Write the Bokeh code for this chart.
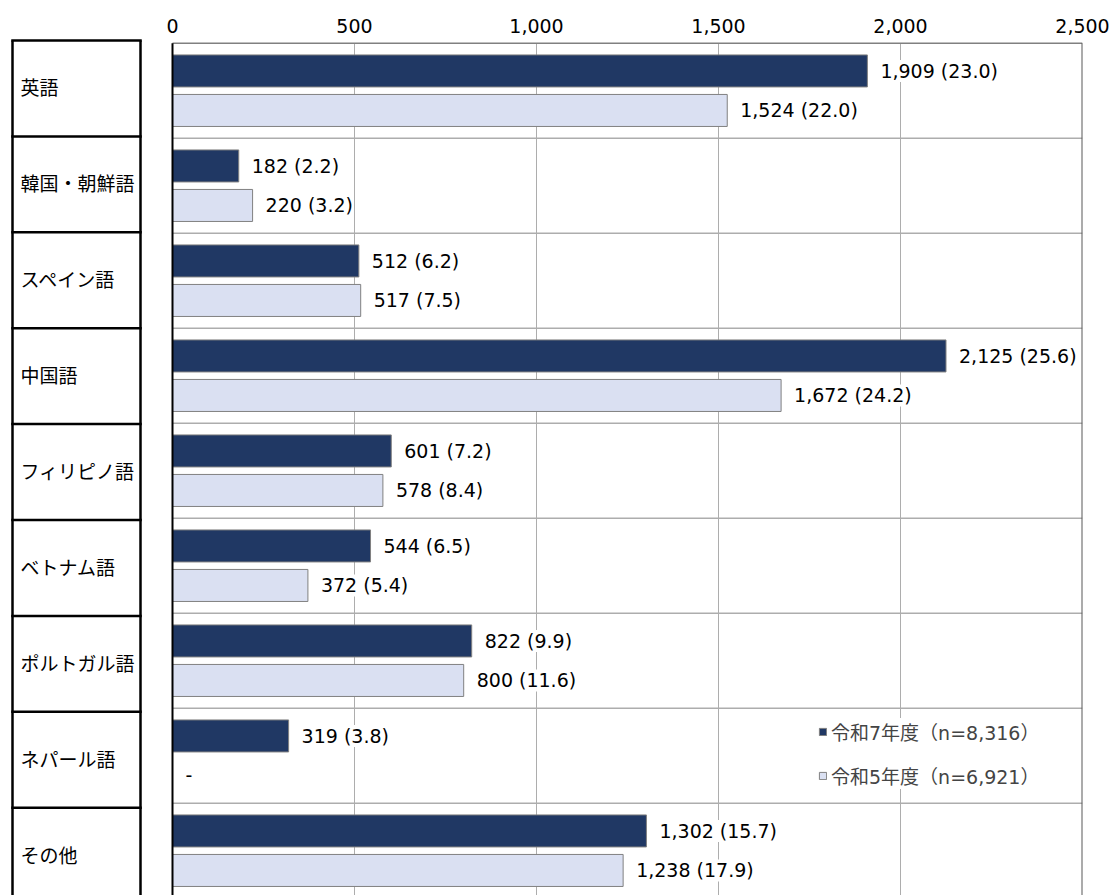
from bokeh.plotting import figure
from bokeh.models import Range1d, FixedTicker, ColumnDataSource, Legend, LegendItem, NumeralTickFormatter
from bokeh.core.properties import value
from bokeh.embed import file_html
from bokeh.resources import INLINE

# ---------------- data ----------------
categories = ["英語", "韓国・朝鮮語", "スペイン語", "中国語", "フィリピノ語",
              "ベトナム語", "ポルトガル語", "ネパール語", "その他"]
r7_counts = [1909, 182, 512, 2125, 601, 544, 822, 319, 1302]
r7_pcts = [23.0, 2.2, 6.2, 25.6, 7.2, 6.5, 9.9, 3.8, 15.7]
r5_counts = [1524, 220, 517, 1672, 578, 372, 800, None, 1238]
r5_pcts = [22.0, 3.2, 7.5, 24.2, 8.4, 5.4, 11.6, None, 17.9]
series_names = ["令和7年度（n=8,316）", "令和5年度（n=6,921）"]
x_ticks = [0, 500, 1000, 1500, 2000, 2500]

# ---------------- layout constants (pixels) ----------------
FONT = "DejaVu Sans, Noto Sans CJK JP"
FS = "19px"
FIG_W, FIG_H = 1110, 895
BORDER_L, BORDER_R, BORDER_T = 0, 28, 36
PAGE = 0
FRAME_W = FIG_W - BORDER_L - BORDER_R
PX = 0.364                       # pixels per unit on x
X0_IMG = 172                     # image x of value 0
TOP_IMG = 42.7                   # image y of plot top
ROW_PX = 95.0                    # row height in pixels
FRAME_TOP_IMG = PAGE + BORDER_T
FRAME_BOT_IMG = PAGE + FIG_H

XMAX = x_ticks[-1]
x_start = XMAX - FRAME_W / PX


def xd(img_x):
    return (img_x - X0_IMG) / PX


def yd(img_y):
    return (img_y - TOP_IMG) / ROW_PX


y_top = yd(FRAME_TOP_IMG)
y_bot = yd(FRAME_BOT_IMG)

DARK = "#203864"
LIGHT = "#DAE0F2"
BAR_LINE = "#808080"
GRID = "#ADADAD"

n = len(categories)
OFF7, OFF5, BAR_H = 0.292, 0.708, 0.337

p = figure(width=FIG_W, height=FIG_H, output_backend="svg", toolbar_location=None,
           x_range=Range1d(x_start, XMAX), y_range=Range1d(y_bot, y_top),
           x_axis_location="above", y_axis_location=None,
           min_border_left=BORDER_L, min_border_right=BORDER_R,
           min_border_top=BORDER_T, min_border_bottom=0)
p.outline_line_color = None
p.xgrid.visible = False
p.ygrid.visible = False
p.background_fill_color = "white"

ax = p.xaxis[0]
ax.ticker = FixedTicker(ticks=x_ticks)
ax.formatter = NumeralTickFormatter(format="0,0")
ax.axis_line_color = None
ax.major_tick_line_color = None
ax.minor_tick_line_color = None
ax.major_tick_out = 0
ax.major_tick_in = 0
ax.major_label_standoff = 4
ax.major_label_text_font = FONT
ax.major_label_text_font_size = FS
ax.major_label_text_color = "#000000"

# vertical gridlines
inner = [t for t in x_ticks if 0 < t < XMAX]
p.segment(x0=inner, x1=inner, y0=[0] * len(inner), y1=[y_bot] * len(inner),
          line_color=GRID, line_width=1)
# horizontal row lines
rows = list(range(1, n + 1))
p.segment(x0=[0] * n, x1=[XMAX] * n, y0=rows, y1=rows, line_color=GRID, line_width=1.5)

# bars
y7 = [i + OFF7 for i in range(n)]
y5 = [i + OFF5 for i in range(n)]
r5_vals = [float("nan") if v is None else v for v in r5_counts]
src7 = ColumnDataSource(dict(y=y7, right=r7_counts))
src5 = ColumnDataSource(dict(y=y5, right=r5_vals))
b7 = p.hbar(y="y", right="right", left=0, height=BAR_H, source=src7,
            fill_color=DARK, line_color=BAR_LINE, line_width=1)
b5 = p.hbar(y="y", right="right", left=0, height=BAR_H, source=src5,
            fill_color=LIGHT, line_color=BAR_LINE, line_width=1)

# plot borders
p.segment(x0=[0], x1=[XMAX], y0=[0], y1=[0], line_color="#808080", line_width=1.5)
p.segment(x0=[XMAX], x1=[XMAX], y0=[0], y1=[y_bot], line_color="#595959", line_width=2)
p.segment(x0=[0], x1=[0], y0=[0], y1=[y_bot], line_color="#000000", line_width=2)

# category box on the left
BOX_L, BOX_R, BOX_T, BOX_ROW = 12, 140, 40, 95.9
box_ys = [yd(BOX_T + BOX_ROW * k) for k in range(n + 1)]
p.segment(x0=[xd(BOX_L)] * (n + 1), x1=[xd(BOX_R)] * (n + 1), y0=box_ys, y1=box_ys,
          line_color="#000000", line_width=2.5, line_cap="square")
p.segment(x0=[xd(BOX_L), xd(BOX_R)], x1=[xd(BOX_L), xd(BOX_R)],
          y0=[box_ys[0]] * 2, y1=[y_bot + 0.2] * 2, line_color="#000000", line_width=2.5)
cat_y = [(box_ys[k] + box_ys[k + 1]) / 2 for k in range(n)]
p.text(x=[xd(20)] * n, y=cat_y, text=categories, text_align="left", text_baseline="middle",
       text_font=value(FONT), text_font_size=FS, text_color="#000000")

# value labels
lab7 = [f"{c:,} ({q:.1f})" for c, q in zip(r7_counts, r7_pcts)]
lab5 = ["-" if c is None else f"{c:,} ({q:.1f})" for c, q in zip(r5_counts, r5_pcts)]
lx = r7_counts + [0 if c is None else c for c in r5_counts]
ly = y7 + y5
p.text(x=lx, y=ly, text=lab7 + lab5, x_offset=13, text_align="left", text_baseline="middle",
       text_font=value(FONT), text_font_size=FS, text_color="#000000",
       background_fill_color="white")

# legend
legend = Legend(items=[LegendItem(label=series_names[0], renderers=[b7]),
                       LegendItem(label=series_names[1], renderers=[b5])],
                location=(818, 106), orientation="vertical",
                glyph_width=9, glyph_height=9, label_height=24, spacing=17,
                label_standoff=4, padding=6, margin=0,
                label_text_font=FONT, label_text_font_size=FS,
                background_fill_color="white", background_fill_alpha=1.0,
                border_line_color=None)
p.add_layout(legend, "center")

open("out.html", "w").write(file_html(p, INLINE))
